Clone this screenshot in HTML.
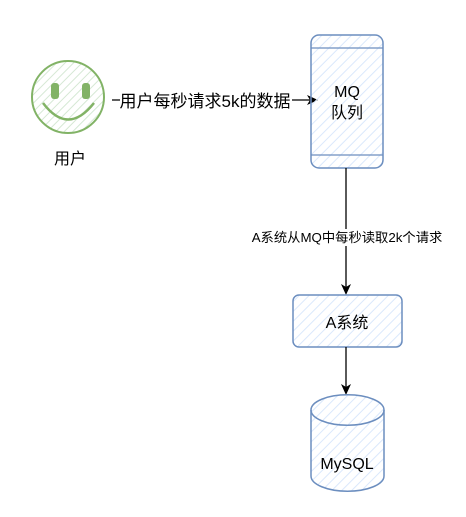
<!DOCTYPE html>
<html><head><meta charset="utf-8"><style>
html,body{margin:0;padding:0;background:#fff;}
svg{display:block;}
text{font-family:"Liberation Sans","Noto Sans CJK SC",sans-serif;}
</style></head><body>
<svg width="466" height="517" viewBox="0 0 466 517" xmlns="http://www.w3.org/2000/svg">
<defs>
<pattern id="hb" width="7" height="7" patternUnits="userSpaceOnUse" patternTransform="rotate(45)">
<line x1="0" y1="0" x2="0" y2="7" stroke="#dae8fc" stroke-width="2"/>
</pattern>
<pattern id="hg" width="6" height="6" patternUnits="userSpaceOnUse" patternTransform="rotate(45)">
<line x1="0" y1="0" x2="0" y2="6" stroke="#d5e8d4" stroke-width="2"/>
</pattern>
</defs>
<!-- smiley -->
<circle cx="68" cy="97" r="36" fill="url(#hg)" stroke="#82b366" stroke-width="2"/>
<rect x="51" y="83" width="8" height="16" rx="3" fill="#82b366"/>
<rect x="82" y="83" width="8" height="16" rx="3" fill="#82b366"/>
<path d="M43 103 Q68 136 94 103" fill="none" stroke="#82b366" stroke-width="2.5"/>
<text x="70" y="164" font-size="16" text-anchor="middle" fill="#000">用户</text>
<!-- arrow 1 -->
<line x1="112" y1="100" x2="312" y2="100" stroke="#000" stroke-width="1.3"/>
<path d="M318 100 L307 95 L310 100 L307 105 Z" fill="#000"/>
<rect x="120" y="89" width="172" height="22" fill="#fff"/>
<text x="205" y="107" font-size="17" text-anchor="middle" fill="#000">用户每秒请求5k的数据</text>
<!-- MQ -->
<rect x="311" y="35" width="72" height="133" rx="8" fill="url(#hb)" stroke="#6c8ebf" stroke-width="1.5"/>
<line x1="311" y1="48" x2="383" y2="48" stroke="#6c8ebf" stroke-width="1.3"/>
<line x1="311" y1="155" x2="383" y2="155" stroke="#6c8ebf" stroke-width="1.3"/>
<text x="347" y="97" font-size="16" text-anchor="middle" fill="#000">MQ</text>
<text x="347" y="118" font-size="16" text-anchor="middle" fill="#000">队列</text>
<!-- arrow 2 -->
<line x1="346" y1="168" x2="346" y2="288" stroke="#000" stroke-width="1.3"/>
<path d="M346 295 L341 284 L346 287 L351 284 Z" fill="#000"/>
<rect x="252" y="229" width="192" height="17" fill="#fff"/>
<text x="347" y="242" font-size="13.3" text-anchor="middle" fill="#000">A系统从MQ中每秒读取2k个请求</text>
<!-- A system -->
<rect x="293" y="295" width="109" height="52" rx="6" fill="url(#hb)" stroke="#6c8ebf" stroke-width="1.5"/>
<text x="347" y="328" font-size="16" text-anchor="middle" fill="#000">A系统</text>
<!-- arrow 3 -->
<line x1="346" y1="347" x2="346" y2="388" stroke="#000" stroke-width="1.3"/>
<path d="M346 395 L341 384 L346 387 L351 384 Z" fill="#000"/>
<!-- MySQL -->
<path d="M311 410 A36 15 0 0 1 384 410 L384 476 A36 15 0 0 1 311 476 Z" fill="url(#hb)" stroke="#6c8ebf" stroke-width="1.5"/>
<path d="M311 410 A36 15 0 0 0 384 410" fill="none" stroke="#6c8ebf" stroke-width="1.5"/>
<text x="347" y="469" font-size="16" text-anchor="middle" fill="#000">MySQL</text>
</svg>
</body></html>
